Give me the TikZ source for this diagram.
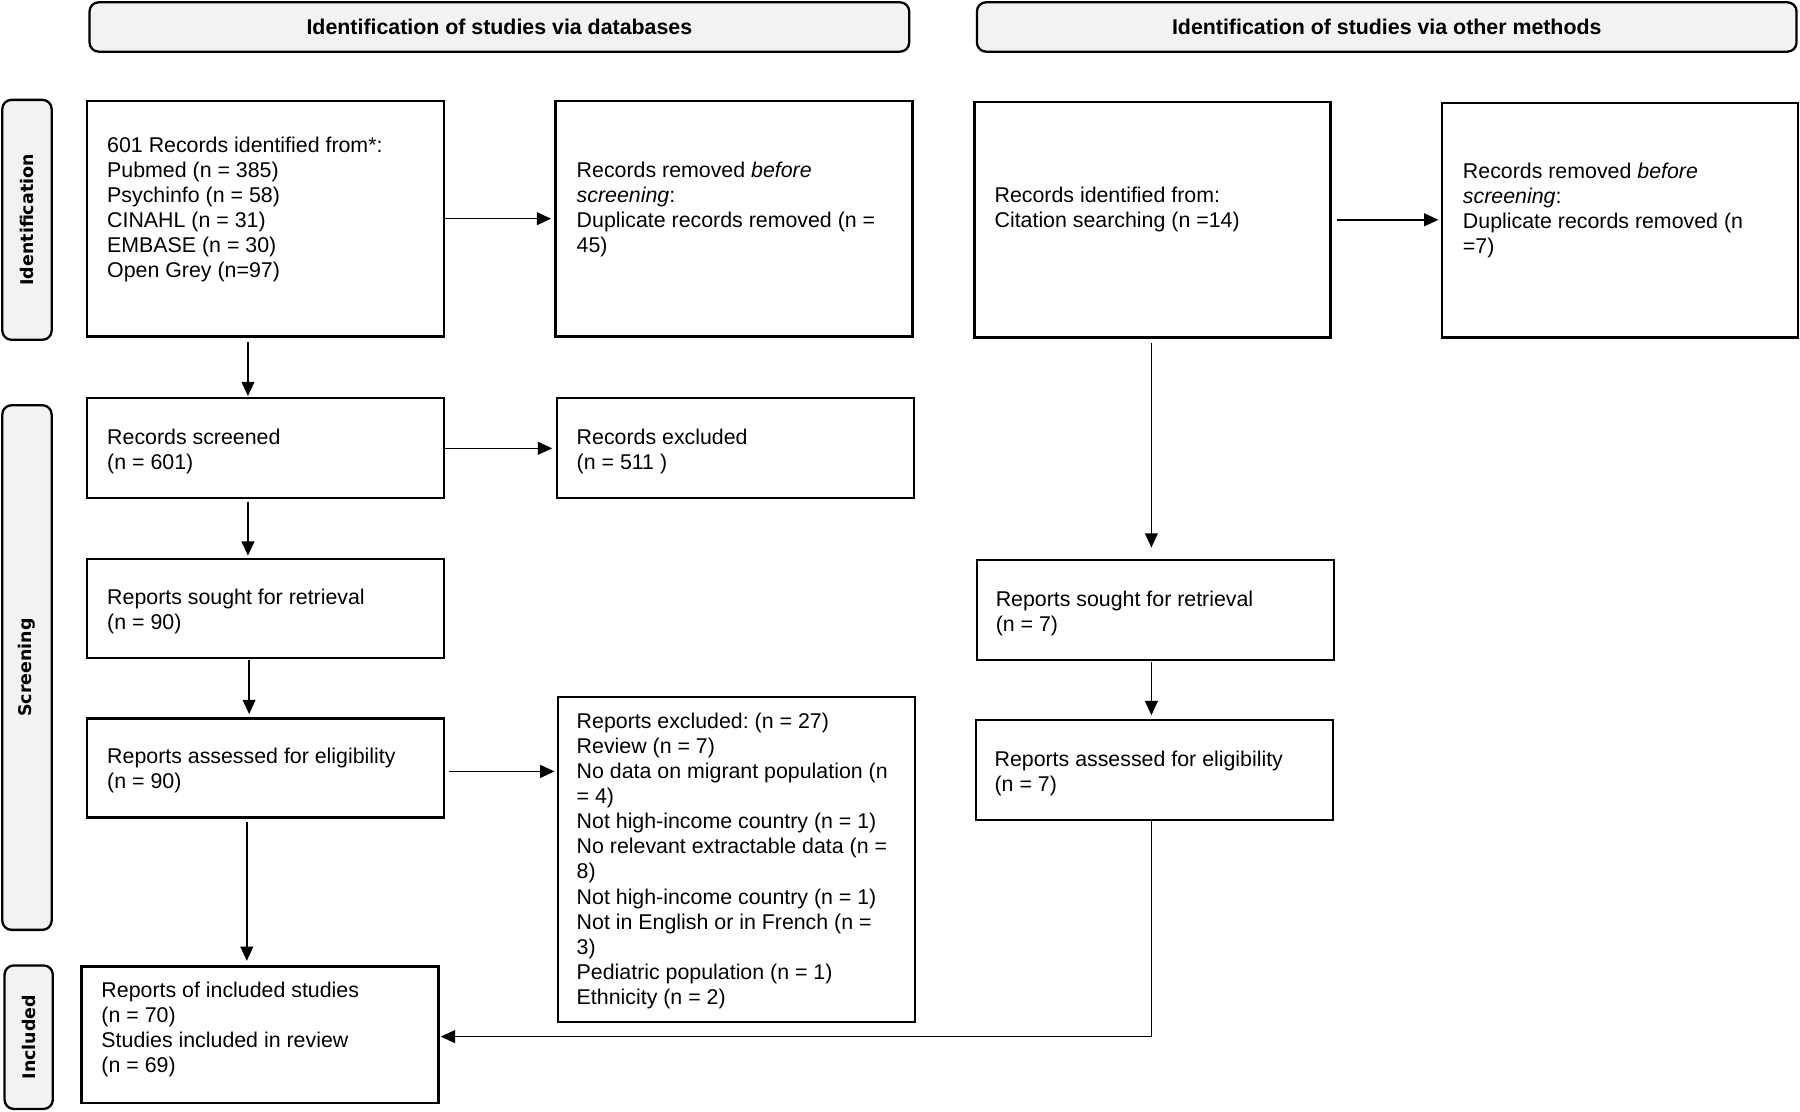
\documentclass[tikz,border=0pt]{standalone}
\usepackage{fontspec}
\setmainfont{Liberation Sans}
\newfontfamily\sidefont{DejaVu Sans}
\usetikzlibrary{fit,arrows.meta}
\definecolor{hdrgray}{RGB}{242,242,242}
\frenchspacing
\begin{document}
\begin{tikzpicture}[x=0.5pt,y=-0.5pt,
  box/.style={draw=black, line width=1pt, inner sep=0pt},
  hdr/.style={draw=black, line width=1pt, inner sep=0pt, rounded corners=4pt, fill=hdrgray},
  txt/.style={anchor=north west, inner sep=0pt, align=left, font=\fontsize{9.3}{10.9}\selectfont\frenchspacing},
  htxt/.style={inner sep=0pt, anchor=base, font=\fontsize{9.3}{10.9}\selectfont\bfseries},
  stxt/.style={inner sep=0pt, rotate=90, font=\sidefont\fontsize{7.6}{9}\selectfont\bfseries},
  arr/.style={line width=0.6pt, -{Triangle[length=6.2pt,width=5.6pt]}},
]
\useasboundingbox (0,0) rectangle (1568,968);

% headers
\node[hdr, fit={(78,2) (792,45)}] (h1) {};
\node[htxt] (h1t) at (435,30) {Identification of studies via databases};
\node[hdr, fit={(851,2) (1565,45)}] (h2) {};
\node[htxt] (h2t) at (1208,30) {Identification of studies via other methods};

% side labels
\node[hdr, fit={(2,87) (45,296)}] (s1) {};
\node[stxt] (s1t) at (s1.center) {Identification};
\node[hdr, fit={(2,353) (45,810)}] (s2) {};
\node[stxt] (s2t) at (s2.center) {Screening};
\node[hdr, fit={(4,841) (46,966)}] (s3) {};
\node[stxt] (s3t) at (s3.center) {Included};

% boxes
\node[box, fit={(76,88) (387,293)}] (A) {};
\node[box, fit={(484,88) (795,293)}] (B) {};
\node[box, fit={(849,89) (1159,294)}] (C) {};
\node[box, fit={(1256,90) (1566,294)}] (D) {};
\node[box, fit={(76,347) (387,434)}] (E) {};
\node[box, fit={(485,347) (796,434)}] (F) {};
\node[box, fit={(76,487) (387,573)}] (G) {};
\node[box, fit={(76,626) (387,712)}] (H) {};
\node[box, fit={(486,607) (797,890)}] (I) {};
\node[box, fit={(71,842) (382,961)}] (J) {};
\node[box, fit={(851,488) (1162,575)}] (K) {};
\node[box, fit={(850,627) (1161,714)}] (L) {};

% texts
\node[txt] (At) at (93,118.6) {601 Records identified from*:\\Pubmed (n = 385)\\Psychinfo (n = 58)\\CINAHL (n = 31)\\EMBASE (n = 30)\\Open Grey (n=97)};
\node[txt] (Bt) at (502,140.4) {Records removed \textit{before}\\\textit{screening}:\\Duplicate records removed (n =\\45)};
\node[txt] (Ct) at (866,162.2) {Records identified from:\\Citation searching (n =14)};
\node[txt] (Dt) at (1274,141.5) {Records removed \textit{before}\\\textit{screening}:\\Duplicate records removed (n\\=7)};
\node[txt] (Et) at (93,373.3) {Records screened\\(n = 601)};
\node[txt] (Ft) at (502,373.3) {Records excluded\\(n = 511 )};
\node[txt] (Gt) at (93,512.7) {Reports sought for retrieval\\(n = 90)};
\node[txt] (Ht) at (93,651.5) {Reports assessed for eligibility\\(n = 90)};
\node[txt] (It) at (502,621) {Reports excluded: (n = 27)\\Review (n = 7)\\No data on migrant population (n\\= 4)\\Not high-income country (n = 1)\\No relevant extractable data (n =\\8)\\Not high-income country (n = 1)\\Not in English or in French (n =\\3)\\Pediatric population (n = 1)\\Ethnicity (n = 2)};
\node[txt] (Jt) at (88,854.7) {Reports of included studies\\(n = 70)\\Studies included in review\\(n = 69)};
\node[txt] (Kt) at (867,514.5) {Reports sought for retrieval\\(n = 7)};
\node[txt] (Lt) at (866,653.5) {Reports assessed for eligibility\\(n = 7)};

% coordinates for vertical connectors
\coordinate (xa) at (216,0);
\coordinate (xb) at (217,0);
\coordinate (xc) at (215,0);
\coordinate (xr) at (1003,0);

% connectors
\draw[arr, shorten >=1.5pt] (A.east) -- (A.east -| B.west);
\draw[arr, shorten >=1.5pt] (E.east) -- (E.east -| F.west);
\draw[arr, shorten <=1.5pt, shorten >=1pt] ([yshift=-1.5pt]H.east) -- ([yshift=-1.5pt]H.east -| I.west);
\draw[arr, shorten <=2.5pt, shorten >=1pt] (C.east) -- (C.east -| D.west);
\draw[arr, shorten <=2pt, shorten >=0.5pt] (A.south -| xa) -- (E.north -| xa);
\draw[arr, shorten <=1pt, shorten >=1pt] (E.south -| xa) -- (G.north -| xa);
\draw[arr, shorten <=0.5pt, shorten >=1.5pt] (G.south -| xb) -- (H.north -| xb);
\draw[arr, shorten <=1.5pt, shorten >=2pt] (H.south -| xc) -- (J.north -| xc);
\draw[arr, shorten <=2pt, shorten >=5pt] (C.south -| xr) -- (K.north -| xr);
\draw[arr, shorten <=0.5pt, shorten >=1.5pt] (K.south -| xr) -- (L.north -| xr);
\draw[arr, shorten >=0.5pt] (L.south -| xr) |- ([yshift=-0.75pt]J.east);
\end{tikzpicture}
\end{document}
